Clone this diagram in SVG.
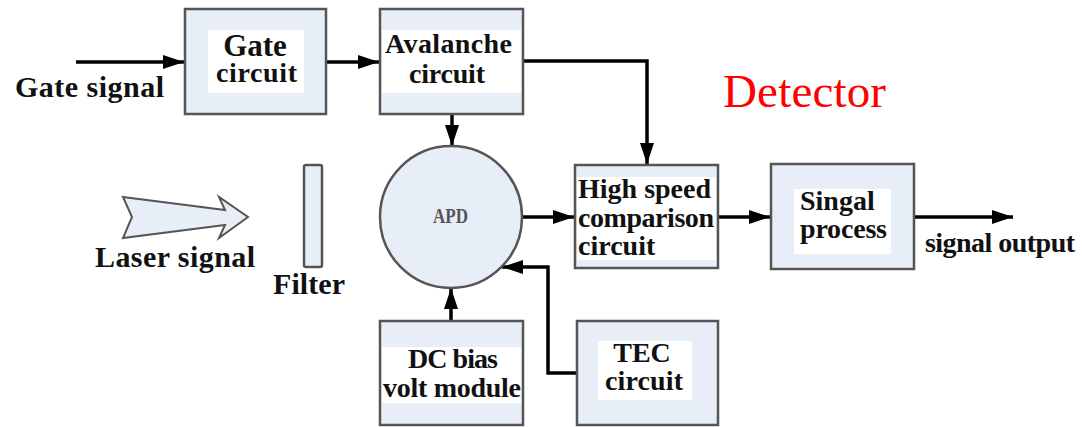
<svg xmlns="http://www.w3.org/2000/svg" width="1082" height="427" viewBox="0 0 1082 427">
<style>
.box{fill:#e8eef8;stroke:#555;stroke-width:2.5}
.inner{fill:#fff;stroke:none}
.t{font-family:"Liberation Serif","Times New Roman",serif;font-weight:bold;fill:#111;font-size:28px}
.lbl{font-family:"Liberation Serif","Times New Roman",serif;font-weight:bold;fill:#111;font-size:30px}
.c{stroke:#000;stroke-width:3.5;fill:none}
</style>
<defs>
<marker id="ah" markerUnits="userSpaceOnUse" markerWidth="22" markerHeight="16" refX="21" refY="7" orient="auto">
<path d="M0,0 L21,7 L0,14 z" fill="#000"/>
</marker>
</defs>
<rect width="1082" height="427" fill="#fff"/>
<g id="connectors">
<path class="c" d="M76,62 H184" marker-end="url(#ah)"/>
<path class="c" d="M327,62 H379" marker-end="url(#ah)"/>
<path class="c" d="M523,61 H647 V164" marker-end="url(#ah)"/>
<path class="c" d="M452,114 V146" marker-end="url(#ah)"/>
<path class="c" d="M523,217 H574" marker-end="url(#ah)"/>
<path class="c" d="M718,217 H770" marker-end="url(#ah)"/>
<path class="c" d="M914,217 H1013" marker-end="url(#ah)"/>
<path class="c" d="M451,321 V288" marker-end="url(#ah)"/>
<path class="c" d="M577,373 H548 V267 H502" marker-end="url(#ah)"/>
</g>
<g id="gate-signal"><text class="lbl" x="15" y="97" textLength="149">Gate signal</text></g>
<g id="gate-circuit">
<rect class="box" x="185" y="9" width="141" height="105"/>
<rect class="inner" x="208" y="30" width="96" height="63"/>
<text class="t" x="255" y="56" text-anchor="middle" font-size="31" style="font-size:31px">Gate</text>
<text class="t" x="216" y="82" textLength="81">circuit</text>
</g>
<g id="avalanche">
<rect class="box" x="380" y="9" width="143" height="105"/>
<rect class="inner" x="382" y="30" width="139" height="63"/>
<text class="t" x="385" y="53" textLength="127">Avalanche</text>
<text class="t" x="409" y="83" textLength="76">circuit</text>
</g>
<g id="detector-label"><text x="723" y="107" font-family="Liberation Serif,'Times New Roman',serif" font-size="47" fill="#ff0000" textLength="163">Detector</text></g>
<g id="laser">
<polygon points="123,197 225,210 219,197 248,217 219,238 225,225 123,238 132,217" fill="#e8eef8" stroke="#555" stroke-width="2"/>
<text class="lbl" x="95" y="267" textLength="160">Laser signal</text>
</g>
<g id="filter">
<rect x="304" y="165" width="18" height="102" rx="2" fill="#e8eef8" stroke="#555" stroke-width="2.5"/>
<text class="lbl" x="273" y="294" textLength="72">Filter</text>
</g>
<g id="apd">
<circle cx="451" cy="217" r="71" fill="#e8eef8" stroke="#555" stroke-width="2.5"/>
<text x="433" y="223" font-family="Liberation Serif,'Times New Roman',serif" font-size="22" font-weight="bold" fill="#555" textLength="35" lengthAdjust="spacingAndGlyphs">APD</text>
</g>
<g id="high-speed">
<rect class="box" x="575" y="165" width="143" height="103"/>
<rect class="inner" x="577" y="177" width="139" height="83"/>
<text class="t" x="578" y="198">High speed</text>
<text class="t" x="578" y="227" textLength="136">comparison</text>
<text class="t" x="578" y="255">circuit</text>
</g>
<g id="singal-process">
<rect class="box" x="771" y="164" width="143" height="105"/>
<rect class="inner" x="794" y="189" width="97" height="65"/>
<text class="t" x="800" y="210">Singal</text>
<text class="t" x="800" y="238" textLength="87">process</text>
</g>
<g id="signal-output"><text class="t" x="925" y="252" textLength="150">signal output</text></g>
<g id="dc-bias">
<rect class="box" x="380" y="321" width="143" height="104"/>
<rect class="inner" x="382" y="347" width="139" height="56"/>
<text class="t" x="408" y="368" textLength="90">DC bias</text>
<text class="t" x="383" y="397" textLength="138">volt module</text>
</g>
<g id="tec">
<rect class="box" x="577" y="321" width="141" height="104"/>
<rect class="inner" x="598" y="341" width="94" height="59"/>
<text class="t" x="642" y="362" text-anchor="middle">TEC</text>
<text class="t" x="605" y="390" textLength="78">circuit</text>
</g>
</svg>
